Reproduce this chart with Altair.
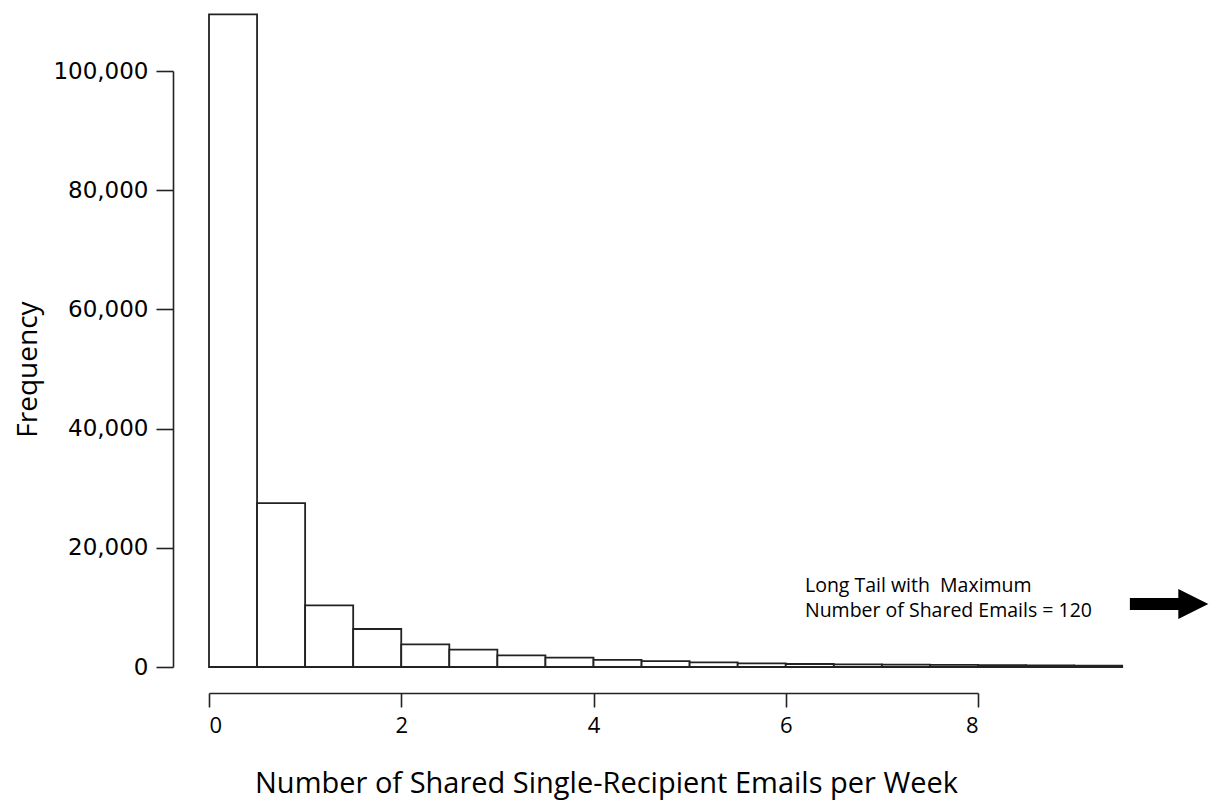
import altair as alt
import pandas as pd

# Histogram bins (bin width 0.5) and frequencies
bin_starts = [0.0, 0.5, 1.0, 1.5, 2.0, 2.5, 3.0, 3.5, 4.0, 4.5,
              5.0, 5.5, 6.0, 6.5, 7.0, 7.5, 8.0, 8.5, 9.0]
bin_width = 0.5
counts = [109500, 27500, 10350, 6380, 3800, 2900, 1960, 1560, 1200, 1000,
          790, 620, 500, 450, 400, 370, 330, 280, 220]

x_ticks = [0, 2, 4, 6, 8]
y_ticks = [0, 20000, 40000, 60000, 80000, 100000]

annot_lines = ["Long Tail with\u00a0 Maximum", "Number of Shared Emails = 120"]
annot_pos = {"x": 6.2, "y": 13600}
arrow_shaft = {"x0": 9.58, "x1": 10.15, "y": 10570}
arrow_head = {"x": 10.24, "y": 10570}

df = pd.DataFrame({
    "bin_start": bin_starts,
    "bin_end": [b + bin_width for b in bin_starts],
    "count": counts,
})

xscale = alt.Scale(domain=[0, 8], nice=False, zero=False, padding=0)
yscale = alt.Scale(domain=[0, 100000], nice=False, padding=0)

xaxis = alt.Axis(values=x_ticks, title="Number of Shared Single-Recipient Emails per Week",
                 offset=26, tickSize=14, labelPadding=8,
                 labelFont="Open Sans", labelFontSize=22, labelColor="black",
                 titleFont="Open Sans", titleFontSize=29, titleFontWeight="normal",
                 titleColor="black", titlePadding=33, titleX=397,
                 domainColor="#222222", tickColor="#222222",
                 domainWidth=1.6, tickWidth=1.6, grid=False)
yaxis = alt.Axis(values=y_ticks, labelExpr="format(datum.value, ',')", title="Frequency",
                 offset=36, tickSize=17, labelPadding=8,
                 labelFont="DejaVu Sans", labelFontSize=23, labelColor="black",
                 titleFont="Open Sans", titleFontSize=28, titleFontWeight="normal",
                 titleColor="black", titlePadding=10,
                 domainColor="#222222", tickColor="#222222",
                 domainWidth=1.6, tickWidth=1.6, grid=False)

bars = alt.Chart(df).mark_bar(
    fill="white", stroke="#222222", strokeWidth=1.8, clip=False, orient="vertical"
).encode(
    x=alt.X("bin_start:Q", scale=xscale, axis=xaxis),
    x2="bin_end:Q",
    y=alt.Y("count:Q", scale=yscale, axis=yaxis),
    y2=alt.datum(0),
)

annot_df = pd.DataFrame([annot_pos])
annot = alt.Chart(annot_df).mark_text(
    text=annot_lines, align="left", baseline="middle", lineHeight=25,
    font="Open Sans", fontSize=19.5, color="black", clip=False
).encode(
    x=alt.X("x:Q", scale=xscale, axis=xaxis),
    y=alt.Y("y:Q", scale=yscale, axis=yaxis),
)

shaft_df = pd.DataFrame([arrow_shaft])
shaft = alt.Chart(shaft_df).mark_rule(
    strokeWidth=12, strokeCap="butt", color="black", clip=False
).encode(
    x=alt.X("x0:Q", scale=xscale, axis=xaxis),
    x2="x1:Q",
    y=alt.Y("y:Q", scale=yscale, axis=yaxis),
)

head_df = pd.DataFrame([arrow_head])
head = alt.Chart(head_df).mark_point(
    shape="M-1,-1L1,0L-1,1Z", size=900, filled=True, color="black",
    opacity=1, strokeWidth=0, clip=False
).encode(
    x=alt.X("x:Q", scale=xscale, axis=xaxis),
    y=alt.Y("y:Q", scale=yscale, axis=yaxis),
)

chart = alt.layer(bars, annot, shaft, head).properties(
    width=769, height=596,
    padding={"left": 6, "top": 5, "right": 0, "bottom": 2},
    background="white",
).configure_view(strokeWidth=0)

chart.save("out.html", embed_options={"renderer": "svg", "actions": False})
